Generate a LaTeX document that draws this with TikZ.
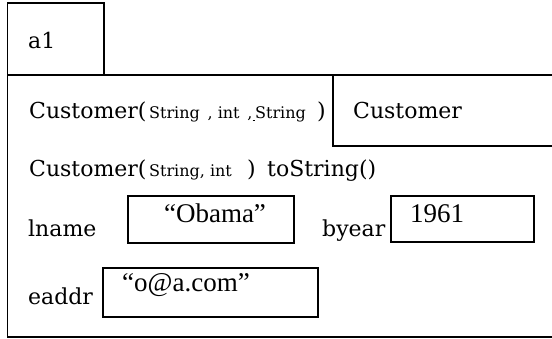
\documentclass[tikz,border=0pt]{standalone}
\usepackage{fontspec}
\setmainfont{Liberation Serif}
\newfontfamily\cam{DejaVu Serif}
\tikzset{
  box/.style={draw=black, line width=1.9pt},
  big/.style={inner sep=0pt, anchor=base west, font=\cam\fontsize{22}{26}\selectfont},
  small/.style={inner sep=0pt, anchor=base west, font=\cam\fontsize{16}{19}\selectfont},
  val/.style={inner sep=0pt, anchor=base west, font=\fontsize{27}{31}\selectfont},
}
\begin{document}
\begin{tikzpicture}[x=1pt,y=-1pt]
\useasboundingbox (0,0) rectangle (552,339);
\clip (0,0) rectangle (552,339);
% frames
\draw[box] (7.5,75) rectangle (570,337);
\draw[box] (7.5,3) rectangle (104,75);
\draw[box] (333,75) rectangle (570,146);
\node[big] (a1) at (28,49) {a1};
% line 1
\node[big] (c1) at (29,119) {Customer(};
\node[small] (p1) at (149,119) {String\, , int\, ,\underline{\,}String};
\node[big] (r1) at (317,119) {)};
\node[big] (cls) at (353,119) {Customer};
% line 2
\node[big] (c2) at (29,177) {Customer(};
\node[small] (p2) at (149,177) {String, int};
\node[big] (r2) at (247,177) {)};
\node[big] (ts) at (267,177) {toString()};
% fields
\node[big] (ln) at (28,237) {lname};
\draw[box] (128,196) rectangle (294,243);
\node[val, anchor=base] (ob) at (215,223) {“Obama”};
\node[big] (by) at (322,237) {byear};
\draw[box] (391,196) rectangle (534,242);
\node[val] (yr) at (410,223) {1961};
\node[big] (ea) at (28,305) {eaddr};
\draw[box] (103,268) rectangle (318,317);
\node[val] (em) at (122,292) {“o@a.com”};
\end{tikzpicture}
\end{document}
